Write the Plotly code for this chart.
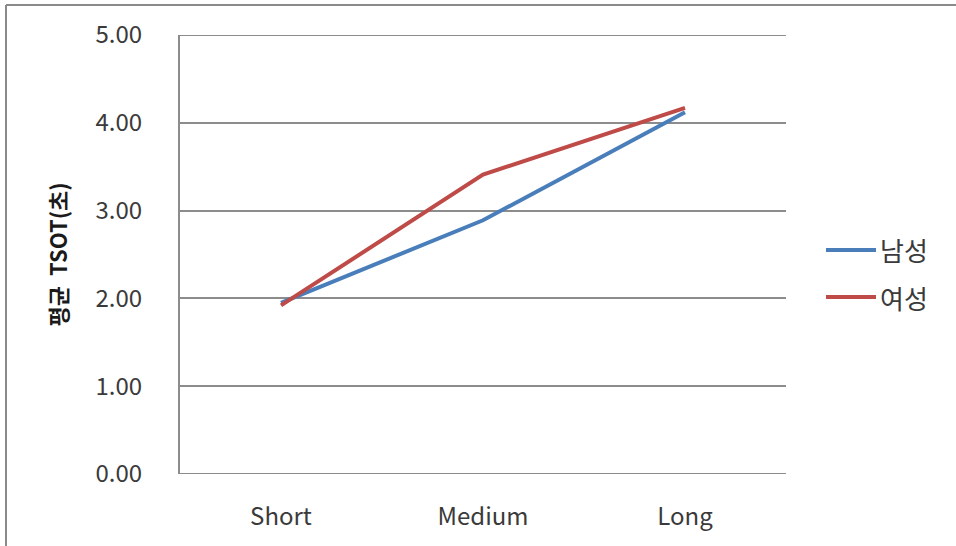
import plotly.graph_objects as go

# Mean TSOT (seconds) by distance condition, split by gender
categories = ["Short", "Medium", "Long"]
male_values = [1.95, 2.89, 4.12]
female_values = [1.92, 3.41, 4.17]
series_names = ["남성", "여성"]
series_colors = ["#4a7ebb", "#be4b48"]
y_ticks = [0, 1, 2, 3, 4, 5]
y_tick_labels = ["0.00", "1.00", "2.00", "3.00", "4.00", "5.00"]

font_family = "Noto Sans CJK KR, Open Sans, sans-serif"
grid_color = "#8c8c8c"
text_color = "#3a3a3a"

fig = go.Figure()
for name, vals, color in zip(series_names, [male_values, female_values], series_colors):
    fig.add_trace(go.Scatter(
        x=categories, y=vals, name=name, mode="lines",
        line=dict(color=color, width=4), showlegend=False,
    ))

# Plot area in pixels: x 180..786, y 35..474 on a 956x546 canvas
W, H = 956, 546
L, R, T, B = 180, 786, 35, 474

def px(x):
    return (x - L) / (R - L)

def py(y):
    return (B - y) / (B - T)

shapes = [
    # outer chart frame (top and left edges)
    dict(type="line", xref="paper", yref="paper", x0=px(6), x1=px(W + 5), y0=py(5), y1=py(5),
         line=dict(color="#8a8a8a", width=2)),
    dict(type="line", xref="paper", yref="paper", x0=px(6), x1=px(6), y0=py(5), y1=py(H + 5),
         line=dict(color="#8a8a8a", width=2)),
]
# gridlines at both ends of the value range
for v in (y_ticks[0], y_ticks[-1]):
    shapes.append(dict(type="line", xref="paper", yref="y", x0=0, x1=1, y0=v, y1=v,
                       line=dict(color=grid_color, width=2), layer="below"))

annotations = []
legend_rows = [250, 297]
for name, color, row in zip(series_names, series_colors, legend_rows):
    shapes.append(dict(type="line", xref="paper", yref="paper",
                       x0=px(826), x1=px(876), y0=py(row), y1=py(row),
                       line=dict(color=color, width=4)))
    annotations.append(dict(xref="paper", yref="paper", x=px(878), y=py(row),
                            xanchor="left", yanchor="middle", text=name, showarrow=False,
                            font=dict(family=font_family, size=26, color=text_color)))

fig.update_layout(
    width=W, height=H,
    margin=dict(l=L, r=W - R, t=T, b=H - B, pad=0),
    paper_bgcolor="white", plot_bgcolor="white",
    font=dict(family=font_family, size=20, color=text_color),
    xaxis=dict(
        type="category", range=[-0.5, 2.5], showgrid=False, zeroline=False,
        showline=False, ticks="", ticklabelstandoff=26,
        tickfont=dict(size=24, color=text_color),
    ),
    yaxis=dict(
        range=[0, 5], tickvals=y_ticks, ticktext=y_tick_labels,
        showgrid=True, gridcolor=grid_color, gridwidth=2, zeroline=False,
        showline=True, linecolor=grid_color, linewidth=2, ticks="",
        ticklabelstandoff=31, tickfont=dict(size=24, color=text_color),
        title=dict(text="<b>평균  TSOT(초)</b>", standoff=22,
                   font=dict(family=font_family, size=22, color="#1a1a1a")),
    ),
    shapes=shapes, annotations=annotations,
)

fig.write_html("out.html")
